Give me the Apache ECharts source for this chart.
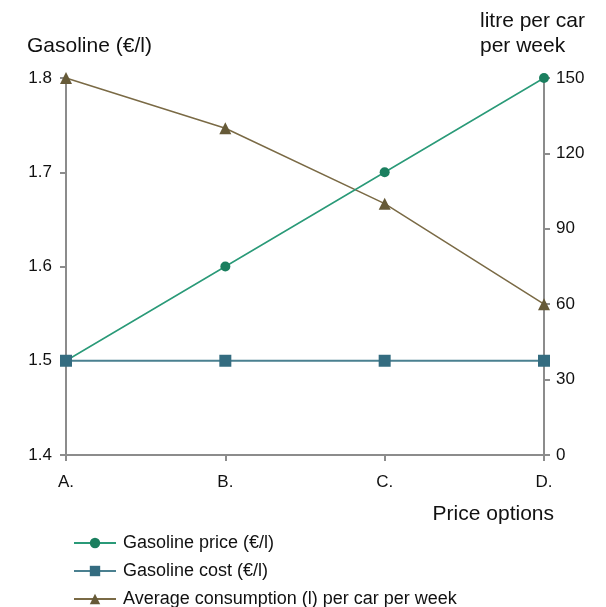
<!DOCTYPE html>
<html lang="en">
<head>
    <meta charset="UTF-8">
    <title>Gasoline price options</title>
    <script src="https://cdn.jsdelivr.net/npm/echarts@6/dist/echarts.min.js"></script>
    <style>
        html, body { margin: 0; padding: 0; background: #fff; }
        #container { width: 606px; height: 607px; }
    </style>
</head>
<body>
<div id="container"></div>
<script type="text/javascript">
    var categories = ['A.', 'B.', 'C.', 'D.'];
    var gasPrice = [1.5, 1.6, 1.7, 1.8];
    var gasCost = [1.5, 1.5, 1.5, 1.5];
    var consumption = [150, 130, 100, 60];
    var seriesNames = ['Gasoline price (€/l)', 'Gasoline cost (€/l)', 'Average consumption (l) per car per week'];

    var font = 'Liberation Sans, Arial, sans-serif';
    var axisGray = '#8c8c8c';

    // one legend per row so the rows never wrap into columns
    var legends = seriesNames.map(function (name, i) {
        return {
            orient: 'vertical',
            left: 73,
            top: 534 + i * 28,
            padding: 0,
            itemWidth: 42,
            itemHeight: 13,
            textStyle: { fontFamily: font, fontSize: 18, color: '#111', padding: [0, 0, 0, 2] },
            data: [name]
        };
    });

    var myChart = echarts.init(document.getElementById('container'));
    myChart.setOption({
        animation: false,
        textStyle: { fontFamily: font },
        grid: { left: 66, right: 62, top: 78, bottom: 152 },
        legend: legends,
        graphic: [
            { type: 'text', left: 27, top: 36, style: { text: 'Gasoline (€/l)', font: '21px ' + font, fill: '#111' } },
            { type: 'text', right: 21, top: 9, style: { text: 'litre per car\nper week', font: '21px ' + font, fill: '#111', align: 'right', lineHeight: 25 } },
            { type: 'text', right: 52, top: 504, style: { text: 'Price options', font: '21px ' + font, fill: '#111' } }
        ],
        xAxis: {
            type: 'category',
            data: categories,
            boundaryGap: false,
            axisLine: { lineStyle: { color: axisGray, width: 2 } },
            axisTick: { alignWithLabel: true, length: 6, lineStyle: { color: axisGray, width: 2 } },
            axisLabel: { color: '#111', fontSize: 17, margin: 19 }
        },
        yAxis: [{
            type: 'value',
            min: 1.4,
            max: 1.8,
            interval: 0.1,
            position: 'left',
            axisLine: { show: true, lineStyle: { color: axisGray, width: 2 } },
            axisTick: { show: true, length: 6, lineStyle: { color: axisGray, width: 2 } },
            axisLabel: { color: '#111', fontSize: 17, margin: 14, formatter: function (v) { return v.toFixed(1); } },
            splitLine: { show: false }
        }, {
            type: 'value',
            min: 0,
            max: 150,
            interval: 30,
            position: 'right',
            axisLine: { show: true, lineStyle: { color: axisGray, width: 2 } },
            axisTick: { show: true, length: 6, lineStyle: { color: axisGray, width: 2 } },
            axisLabel: { color: '#111', fontSize: 17, margin: 12 },
            splitLine: { show: false }
        }],
        series: [{
            name: seriesNames[0],
            type: 'line',
            yAxisIndex: 0,
            data: gasPrice,
            symbol: 'circle',
            symbolSize: 10,
            color: '#1b7f5f',
            lineStyle: { width: 1.5, color: '#2a9a78' },
            z: 3
        }, {
            name: seriesNames[1],
            type: 'line',
            yAxisIndex: 0,
            data: gasCost,
            symbol: 'rect',
            symbolSize: 12,
            color: '#346c80',
            lineStyle: { width: 2, color: '#4a8090' },
            z: 4
        }, {
            name: seriesNames[2],
            type: 'line',
            yAxisIndex: 1,
            data: consumption,
            symbol: 'triangle',
            symbolSize: 12,
            color: '#665a38',
            lineStyle: { width: 1.5, color: '#7a6a45' },
            z: 2
        }]
    });
</script>
</body>
</html>
